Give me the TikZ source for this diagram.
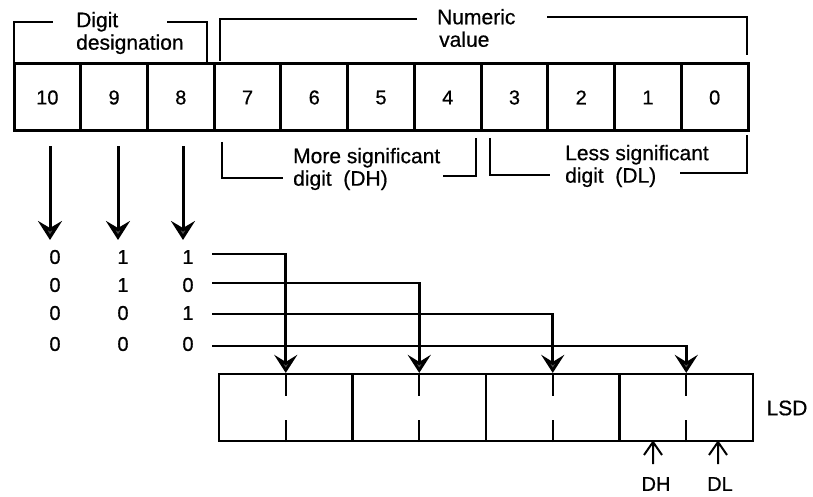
\documentclass[tikz,border=0pt]{standalone}
\usepackage{fontspec}
\setmainfont{Liberation Sans}[FakeBold=0.6]
\usetikzlibrary{arrows.meta}
\begin{document}
\begin{tikzpicture}[x=1pt,y=-1pt,
  cellbox/.style={draw, line width=3pt, minimum width=66.7pt, minimum height=67pt, inner sep=0pt, font=\fontsize{20}{22}\selectfont},
  regcell/.style={draw, line width=2.2pt, minimum width=133.5pt, minimum height=67pt, inner sep=0pt},
  brk/.style={line width=2.4pt},
  lbl/.style={font=\fontsize{21}{22.5}\selectfont, align=left, inner sep=0pt, anchor=west},
  digit/.style={font=\fontsize{20}{22}\selectfont, inner sep=0pt},
  downarr/.style={line width=3pt, -{Stealth[length=19pt,width=24pt,inset=7pt,fill=black!70]}},
  conn/.style={line width=2.8pt, -{Stealth[length=18pt,width=23pt,inset=7pt,fill=black!70]}},
  tick/.style={line width=2.2pt},
  uparr/.style={line width=2pt, line join=miter},
]
\useasboundingbox[fill=white] (0,0) rectangle (813,497);

% top register
\foreach \n [count=\i from 0] in {10,9,8,7,6,5,4,3,2,1,0}
  \node[cellbox] (c\n) at ({14+66.73*(\i+0.5)},97.5) {\n};

% brackets above
\draw[brk] (14,62) -- (14,22) -- (53,22);
\draw[brk] (167,22) -- (207,22) -- (207,62);
\node[lbl] (dd) at (76,33) {Digit\\designation};
\draw[brk] (220,61) -- (220,19) -- (417,19);
\draw[brk] (547,17) -- (747,17) -- (747,55);
\node[lbl] (nv) at (437,28) {Numeric\\\hspace{2pt}value};

% brackets below
\draw[brk] (222,142) -- (222,178) -- (283,178);
\draw[brk] (443,176) -- (476,176) -- (476,138);
\node[lbl] (msd) at (293,169) {More significant\\digit\ \ (DH)};
\draw[brk] (490,138) -- (490,175) -- (550,175);
\draw[brk] (680,173) -- (747,173) -- (747,135);
\node[lbl] (lsdt) at (565,166) {Less significant\\digit\ \ (DL)};

% digit table
\node[digit] (r1a) at (55,257) {0}; \node[digit] (r1b) at (123,257) {1}; \node[digit] (r1c) at (188,257) {1};
\node[digit] (r2a) at (55,285) {0}; \node[digit] (r2b) at (123,285) {1}; \node[digit] (r2c) at (188,285) {0};
\node[digit] (r3a) at (55,313) {0}; \node[digit] (r3b) at (123,313) {0}; \node[digit] (r3c) at (188,313) {1};
\node[digit] (r4a) at (55,344) {0}; \node[digit] (r4b) at (123,344) {0}; \node[digit] (r4c) at (188,344) {0};

% arrows from digit designation cells
\coordinate (t10) at (50,240);
\coordinate (t9) at (118,240);
\coordinate (t8) at (183,240);
\draw[downarr, shorten <=14pt] (c10.south -| t10) -- (t10);
\draw[downarr, shorten <=14pt] (c9.south -| t9) -- (t9);
\draw[downarr, shorten <=14pt] (c8.south -| t8) -- (t8);

% bottom register
\foreach \k in {1,2,3,4}
  \node[regcell] (b\k) at ({219+133.5*(\k-0.5)},407.5) {};
\foreach \k in {1,2,3,4} {
  \draw[tick] (b\k.north) -- ++(0,23);
  \draw[tick] (b\k.south) -- ++(0,-22);
}

% connectors
\coordinate (s1) at (212,254);
\coordinate (s2) at (212,283);
\coordinate (s3) at (212,314);
\coordinate (s4) at (212,346);
\draw[conn] (s4) -| (b4.north);
\draw[conn] (s3) -| (b3.north);
\draw[conn] (s2) -| (b2.north);
\draw[conn] (s1) -| (b1.north);

% labels
\node[font=\fontsize{21}{22}\selectfont, inner sep=0pt] (lsd) at (787,408) {LSD};
\node[font=\fontsize{20}{22}\selectfont, inner sep=0pt] (dh) at (656,484) {DH};
\node[font=\fontsize{20}{22}\selectfont, inner sep=0pt] (dl) at (720,484) {DL};
\coordinate (qdh) at (653,464);
\coordinate (pdh) at (653,442);
\coordinate (qdl) at (718,464);
\coordinate (pdl) at (718,442);
\draw[uparr] (qdh) -- (pdh) ++(-9,13) -- (pdh) -- ++(9,13);
\draw[uparr] (qdl) -- (pdl) ++(-9,13) -- (pdl) -- ++(9,13);
\end{tikzpicture}
\end{document}
